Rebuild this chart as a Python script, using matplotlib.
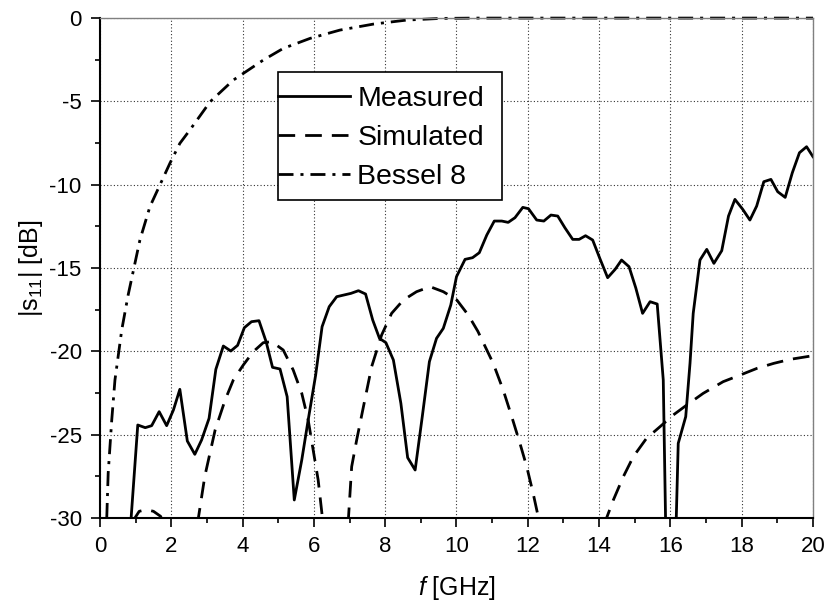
import matplotlib
matplotlib.use('Agg')
import matplotlib.pyplot as plt
from matplotlib.patches import Rectangle
from matplotlib.ticker import MultipleLocator

plt.rcParams.update({
    'font.family': ['Liberation Sans', 'DejaVu Sans'],
    'axes.unicode_minus': False,
    'mathtext.fontset': 'custom',
    'mathtext.rm': 'Liberation Sans',
    'mathtext.it': 'Liberation Sans:italic',
    'mathtext.default': 'regular',
})

# measured |s11| (dB)
meas_f = [0.84, 1.06, 1.27, 1.45, 1.66, 1.87, 2.06, 2.24, 2.45, 2.66, 2.85,
          3.06, 3.25, 3.46, 3.67, 3.86, 4.05, 4.25, 4.46, 4.66, 4.84, 5.05,
          5.25, 5.45, 5.66, 5.84, 6.05, 6.23, 6.43, 6.64, 6.84, 7.04, 7.25,
          7.45, 7.65, 7.84, 8.02, 8.23, 8.44, 8.63, 8.84, 9.04, 9.24, 9.44,
          9.63, 9.84, 10.0, 10.24, 10.45, 10.64, 10.85, 11.06, 11.27, 11.45,
          11.64, 11.86, 12.02, 12.25, 12.45, 12.65, 12.84, 13.04, 13.26,
          13.44, 13.62, 13.82, 14.02, 14.24, 14.45, 14.63, 14.84, 15.03,
          15.22, 15.43, 15.63, 15.80, 15.98, 16.22, 16.43, 16.55, 16.64,
          16.83, 17.02, 17.22, 17.44, 17.63, 17.81, 18.03, 18.23, 18.42,
          18.62, 18.82, 19.01, 19.22, 19.42, 19.62, 19.82, 20.0]
meas_db = [-31.0, -24.42, -24.58, -24.46, -23.62, -24.46, -23.52, -22.28,
           -25.38, -26.18, -25.32, -24.02, -21.08, -19.68, -19.98, -19.64,
           -18.58, -18.22, -18.16, -19.42, -20.96, -21.06, -22.72, -28.92,
           -26.52, -24.12, -21.42, -18.52, -17.32, -16.72, -16.62, -16.52,
           -16.36, -16.56, -18.12, -19.22, -19.48, -20.52, -23.12, -26.38,
           -27.12, -23.92, -20.62, -19.22, -18.62, -17.22, -15.52, -14.48,
           -14.38, -14.08, -13.02, -12.18, -12.18, -12.26, -11.98, -11.36,
           -11.44, -12.12, -12.18, -11.82, -11.88, -12.58, -13.28, -13.28,
           -13.06, -13.32, -14.42, -15.58, -15.08, -14.52, -14.92, -16.2,
           -17.72, -17.02, -17.16, -21.72, -45.0, -25.52, -23.92, -20.72,
           -17.72, -14.52, -13.88, -14.72, -13.96, -11.88, -10.88, -11.48,
           -12.12, -11.28, -9.82, -9.68, -10.42, -10.76, -9.28, -8.08,
           -7.72, -8.32]

# simulated |s11| (dB)
sim_f = [0.7, 0.98, 1.1, 1.3, 1.5, 1.7, 1.78, 2.2, 2.76, 2.94, 3.23, 3.51,
         3.74, 4.02, 4.30, 4.58, 4.82, 5.14, 5.42, 5.66, 5.84, 5.98, 6.12,
         6.24, 6.4, 6.6, 6.8, 6.97, 7.06, 7.2, 7.39, 7.62, 7.90, 8.18, 8.51,
         8.88, 9.26, 9.63, 10.01, 10.33, 10.6, 11.03, 11.31, 11.55, 11.78,
         11.97, 12.15, 12.30, 12.6, 13.2, 13.9, 14.21, 14.40, 14.68, 14.96,
         15.33, 15.71, 16.08, 16.46, 16.92, 17.48, 17.96, 18.43, 18.90,
         19.36, 20.0]
sim_db = [-36.0, -30.0, -29.6, -29.5, -29.6, -29.9, -30.3, -40.0, -30.0,
          -27.5, -24.72, -22.92, -21.72, -20.82, -20.02, -19.48, -19.42,
          -19.92, -21.12, -22.52, -24.12, -25.92, -27.72, -30.0, -36.0,
          -45.0, -36.0, -30.0, -26.92, -25.32, -23.32, -20.92, -19.02,
          -17.72, -16.92, -16.42, -16.12, -16.42, -16.92, -17.82, -18.8,
          -20.72, -22.32, -23.92, -25.52, -26.92, -28.52, -30.0, -33.0,
          -40.0, -33.0, -30.0, -28.92, -27.52, -26.32, -25.22, -24.52,
          -23.82, -23.22, -22.52, -21.82, -21.42, -21.02, -20.72, -20.48,
          -20.26]

# Bessel 8 reference
bes_f = [0.19, 0.23, 0.33, 0.42, 0.61, 0.79, 0.94, 1.12, 1.40, 1.68,
         1.96, 2.24, 2.52, 3.09, 3.74, 4.02, 4.58, 5.14, 5.89, 6.73, 7.67,
         8.60, 9.54, 10.5, 20.0]
bes_db = [-30.0, -27.32, -24.12, -21.72, -18.72, -16.62, -15.12,
          -13.32, -11.32, -10.02, -8.72, -7.52, -6.72, -5.02, -3.72, -3.32,
          -2.52, -1.82, -1.22, -0.72, -0.36, -0.12, -0.02, 0.0, 0.0]

fig = plt.figure(figsize=(8.29, 6.03), dpi=100)
ax = fig.add_axes([0.1206, 0.141, 0.8601, 0.829])

ax.plot(meas_f, meas_db, color='black', lw=2.0, label='Measured')
ax.plot(sim_f, sim_db, color='black', lw=2.0, ls=(0, (6, 3.6)), label='Simulated')
ax.plot(bes_f, bes_db, color='black', lw=2.0, ls=(0, (5.4, 2.5, 1.1, 2.5)),
        label='Bessel 8', clip_on=False)

ax.set_xlim(0, 20)
ax.set_ylim(-30, 0)
ax.xaxis.set_major_locator(MultipleLocator(2))
ax.xaxis.set_minor_locator(MultipleLocator(1))
ax.yaxis.set_major_locator(MultipleLocator(5))
ax.yaxis.set_minor_locator(MultipleLocator(2.5))
ax.grid(True, which='major', ls=(0, (1, 2)), color='black', lw=0.8, alpha=0.8)

ax.tick_params(which='major', direction='out', length=6.7, width=1.2,
               labelsize=16, pad=6.5, top=False, right=False)
ax.tick_params(which='minor', direction='out', length=3.6, width=1.2,
               top=False, right=False)

for s in ['left', 'bottom']:
    ax.spines[s].set_linewidth(1.5)
for s in ['top', 'right']:
    ax.spines[s].set_linewidth(1.0)
    ax.spines[s].set_color('#808080')

ax.set_xlabel('$\\mathit{f}$ [GHz]', fontsize=18, labelpad=12)
ax.set_ylabel('|s$_{11}$| [dB]', fontsize=18, labelpad=3)

leg = ax.legend(loc='upper left', bbox_to_anchor=(0.25, 0.864), frameon=False,
                fontsize=20.5, handlelength=2.53, handletextpad=0.25,
                labelspacing=0.45, borderpad=0.0, borderaxespad=0.0)
leg.set_zorder(6)
ax.add_patch(Rectangle((0.25, 0.636), 0.314, 0.256, transform=ax.transAxes,
                       facecolor='white', edgecolor='black', lw=1.2, zorder=5))

fig.savefig('out.png', dpi=100, facecolor='white')
